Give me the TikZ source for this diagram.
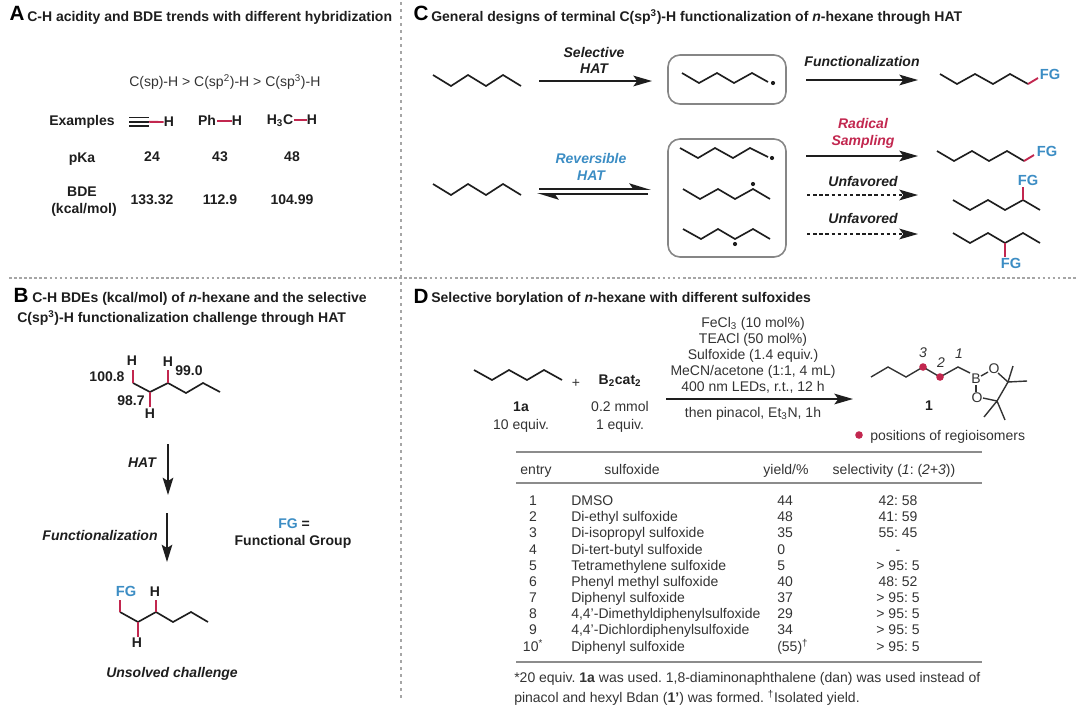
\documentclass[tikz,border=0pt]{standalone}
\usepackage{fontspec}
\setmainfont{Liberation Sans}
\usetikzlibrary{arrows.meta}
\frenchspacing
\definecolor{crim}{HTML}{C2274F}
\definecolor{azure}{HTML}{3C8DC4}
\definecolor{ink}{HTML}{1E1E1E}
\definecolor{txt}{HTML}{333333}
\definecolor{sep}{HTML}{A6A6A6}
\definecolor{boxc}{HTML}{868686}
\definecolor{rulec}{HTML}{8C8C8C}
\tikzset{
  x=0.75pt,y=-0.75pt,
  tb/.style={inner sep=0pt,text=ink,font=\fontsize{10.5}{12}\selectfont\bfseries,text height=9.8pt,text depth=2.8pt},
  tr/.style={inner sep=0pt,text=txt,font=\fontsize{10.5}{12}\selectfont,text height=9.8pt,text depth=2.8pt},
  ti/.style={inner sep=0pt,text=ink,font=\fontsize{10.5}{12}\selectfont\bfseries\itshape,text height=9.8pt,text depth=2.8pt},
  tfg/.style={tb,text=azure,font=\fontsize{11}{12}\selectfont\bfseries},
  title/.style={tb,anchor=west,font=\fontsize{10.5}{12}\selectfont\bfseries},
  letter/.style={inner sep=0pt,text=black,font=\fontsize{15.5}{16}\selectfont\bfseries,text height=11.5pt,text depth=0pt},
  bond/.style={draw=ink,line width=1.25pt,line join=miter},
  rbond/.style={draw=crim,line width=1.4pt},
  thin bond/.style={draw=txt,line width=1.05pt},
  sepv/.style={draw=sep,line width=1.6pt,dash pattern=on 2.4pt off 2.85pt},
  seph/.style={draw=sep,line width=1.2pt,dash pattern=on 2pt off 1.8pt},
  roundbox/.style={draw=boxc,line width=1.2pt,rounded corners=9pt},
  rulel/.style={draw=rulec,line width=1.5pt},
  fat/.style={draw=ink,line width=1.4pt,-{Stealth[length=14pt,width=8pt,inset=3pt]}},
  dashy/.style={fat,dash pattern=on 2.6pt off 2pt},
  harp/.style={draw=ink,line width=1.4pt,-{Stealth[harpoon,length=14pt,width=8.5pt,inset=3pt]}},
  down/.style={draw=ink,line width=1pt,-{Stealth[length=13pt,width=8pt,inset=2.5pt]}},
  rad/.style={fill=ink,draw=none},
  rdot/.style={fill=crim,draw=none},
}
\newcommand{\trow}[6]{%
  \node[tr] (e#1) at (533,#2) {#3};
  \node[tr,anchor=west] (s#1) at (571,#2) {#4};
  \node[tr,anchor=west] (y#1) at (777,#2) {#5};
  \node[tr] (v#1) at (898,#2) {#6};
}
\begin{document}
\begin{tikzpicture}
\useasboundingbox (0,0) rectangle (1080,715);
% separators
\coordinate (sv1) at (401,2);\coordinate (sv2) at (401,700);
\coordinate (sh1) at (9,278);\coordinate (sh4) at (1076,278);
\draw[sepv] (sv1) -- (sv2);
\draw[seph] (sh1) -- (sh4);
% ---------- Panel A
\node[letter] (la) at (17,13) {A};
\node[title] (ta) at (27,17) {C-H acidity and BDE trends with different hybridization};
\node[tr,anchor=west] (trend) at (129,82) {C(sp)-H > C(sp\textsuperscript{2})-H > C(sp\textsuperscript{3})-H};
\node[tb] (ex) at (82,121) {Examples};
\draw[bond] (129,117.5) -- (149,117.5) (129,121.8) -- (149,121.8) (129,126) -- (149,126);
\node[tb] (h1) at (169,122) {H};
\coordinate (t1) at (149,121.8);\draw[rbond] (t1) -- (h1.west);
\node[tb] (ph) at (207,121) {Ph};
\node[tb] (h2) at (237,121) {H};
\draw[rbond] (ph) ++(10,0) -- (h2.west);
\node[tb] (me) at (280,120) {H\textsubscript{3}C};
\node[tb] (h3) at (312,120) {H};
\draw[rbond] (me.east) ++(1,0) -- (h3.west);
\node[tb] (pk) at (82,158) {pKa};
\node[tb] (pk1) at (152,157) {24};
\node[tb] (pk2) at (220,157) {43};
\node[tb] (pk3) at (292,157) {48};
\node[tb] (bd) at (82,192) {BDE};
\node[tb] (bdu) at (84,209) {(kcal/mol)};
\node[tb] (bd1) at (152,200) {133.32};
\node[tb] (bd2) at (220,200) {112.9};
\node[tb] (bd3) at (292,200) {104.99};
% ---------- Panel C
\node[letter] (lc) at (421,13) {C};
\node[title] (tc) at (431,17) {General designs of terminal C(sp\textsuperscript{3})-H functionalization of \textit{n}-hexane through HAT};
\draw[bond] (433,75)--(451,86)--(468,75)--(486,86)--(503,75)--(521,86);
\node[ti] (sel) at (594,53) {Selective};
\node[ti] (selh) at (594,69) {HAT};
\coordinate (a1s) at (539,81);\coordinate (a1e) at (652,81);
\draw[fat] (a1s) -- (a1e);
\draw[roundbox] (668,55) rectangle (786,104);
\draw[bond] (682,73)--(699,83)--(717,73)--(734,83)--(752,73)--(768,82);
\fill[rad] (773,83) circle (2.1);
\node[ti] (fn) at (862,62) {Functionalization};
\coordinate (a2s) at (806,80);\coordinate (a2e) at (918,80);
\draw[fat] (a2s) -- (a2e);
\draw[bond] (940,74)--(957,84)--(975,74)--(993,84)--(1010,74)--(1028,84);
\node[tfg] (fg1) at (1050,75) {FG};
\coordinate (p1) at (1028,84);
\draw[rbond] (p1) -- (1038,78);
% row 2
\draw[bond] (433,184)--(451,195)--(468,184)--(486,195)--(503,184)--(521,195);
\node[ti,text=azure] (rev) at (591,159) {Reversible};
\node[ti,text=azure] (revh) at (591,176) {HAT};
\coordinate (e1s) at (539,189);\coordinate (e1e) at (651,189);
\coordinate (e2s) at (648,194);\coordinate (e2e) at (537,194);
\draw[harp] (e1s) -- (e1e);
\draw[harp] (e2s) -- (e2e);
\draw[roundbox] (668,139) rectangle (786,257);
\draw[bond] (680,148)--(698,158)--(715,148)--(733,158)--(750,148)--(768,157);
\fill[rad] (772,158) circle (2.1);
\draw[bond] (683,189)--(700,199)--(718,189)--(735,199)--(753,189)--(770,199);
\fill[rad] (753,184) circle (2.1);
\draw[bond] (683,229)--(701,239)--(718,229)--(735,239)--(753,229)--(770,239);
\fill[rad] (735,244) circle (2.1);
\node[ti,text=crim] (rs1) at (863,124) {Radical};
\node[ti,text=crim] (rs2) at (863,141) {Sampling};
\coordinate (a3s) at (806,156);\coordinate (a3e) at (918,156);
\draw[fat] (a3s) -- (a3e);
\node[ti] (u1) at (863,182) {Unfavored};
\coordinate (a4s) at (807,195);\coordinate (a4e) at (918,195);
\draw[dashy] (a4s) -- (a4e);
\node[ti] (u2) at (863,219) {Unfavored};
\coordinate (a5s) at (807,234);\coordinate (a5e) at (918,234);
\draw[dashy] (a5s) -- (a5e);
\draw[bond] (937,151)--(954,161)--(972,151)--(989,161)--(1007,151)--(1024,161);
\draw[rbond] (1024,161)--(1034,155);
\node[tfg] (fg2) at (1047,152) {FG};
\draw[bond] (953,200)--(970,210)--(988,200)--(1005,210)--(1023,200)--(1040,210);
\node[tfg] (fg3) at (1028,181) {FG};
\draw[rbond] (1023,200)--(1023,187);
\draw[bond] (953,233)--(970,243)--(988,233)--(1005,243)--(1023,233)--(1040,243);
\node[tfg] (fg4) at (1011,264) {FG};
\draw[rbond] (1005,243)--(1005,257);
% ---------- Panel B
\node[letter] (lb) at (21,295) {B};
\node[title] (tb1) at (32,298) {C-H BDEs (kcal/mol) of \textit{n}-hexane and the selective};
\node[title] (tb2) at (17,318) {C(sp\textsuperscript{3})-H functionalization challenge through HAT};
\draw[bond] (133,383)--(150,392)--(168,383)--(186,393)--(203,383)--(220,392);
\draw[rbond] (133,383)--(133,370);
\draw[rbond] (150,392)--(150,407);
\draw[rbond] (168,383)--(168,370);
\node[tb] (bh1) at (132,361) {H};
\node[tb] (bh2) at (150,414) {H};
\node[tb] (bh3) at (168,362) {H};
\node[tb] (bn1) at (107,377) {100.8};
\node[tb] (bn2) at (189,371) {99.0};
\node[tb] (bn3) at (131,401) {98.7};
\coordinate (d1s) at (168,444);\coordinate (d1e) at (168,495);
\draw[down] (d1s) -- (d1e);
\node[ti] (bhat) at (142,463) {HAT};
\coordinate (d2s) at (167,513);\coordinate (d2e) at (167,562);
\draw[down] (d2s) -- (d2e);
\node[ti] (bfn) at (100,536) {Functionalization};
\node[tb] (fgeq) at (294,524) {\textcolor{azure}{FG} =};
\node[tb] (fgn) at (293,541) {Functional Group};
\draw[bond] (120,612)--(138,622)--(156,612)--(173,622)--(191,612)--(208,622);
\draw[rbond] (120,612)--(120,600);
\draw[rbond] (156,612)--(156,600);
\draw[rbond] (138,622)--(138,637);
\node[tfg] (bfg) at (126,592) {FG};
\node[tb] (bh4) at (155,592) {H};
\node[tb] (bh5) at (137,643) {H};
\node[ti] (uc) at (172,673) {Unsolved challenge};
% ---------- Panel D
\node[letter] (ld) at (421,296) {D};
\node[title] (td) at (431,298) {Selective borylation of \textit{n}-hexane with different sulfoxides};
\draw[bond] (474,370)--(492,380)--(509,370)--(527,380)--(544,370)--(562,380);
\node[tr] (plus) at (576,383) {+};
\node[tb] (b2) at (620,380) {B\textsubscript{2}cat\textsubscript{2}};
\node[tb] (l1a) at (521,407) {1a};
\node[tr] (q1) at (521,425) {10 equiv.};
\node[tr] (q2) at (620,407) {0.2 mmol};
\node[tr] (q3) at (620,425) {1 equiv.};
\node[tr] (c1) at (753,323) {FeCl\textsubscript{3} (10 mol\%)};
\node[tr] (c2) at (753,339) {TEACl (50 mol\%)};
\node[tr] (c3) at (753,355) {Sulfoxide (1.4 equiv.)};
\node[tr] (c4) at (753,371) {MeCN/acetone (1:1, 4 mL)};
\node[tr] (c5) at (753,387) {400 nm LEDs, r.t., 12 h};
\coordinate (a6s) at (666,399);\coordinate (a6e) at (853,399);
\draw[fat] (a6s) -- (a6e);
\node[tr] (c6) at (753,413) {then pinacol, Et\textsubscript{3}N, 1h};
% product 1
\draw[thin bond] (871,377)--(888,367)--(906,377)--(923,367)--(940,377)--(958,367)--(970,373);
\node[tr] (bo) at (976,379) {B};
\node[tr] (o1) at (994,369) {O};
\node[tr] (o2) at (977,398) {O};
\draw[thin bond] (981,376)--(988,372);
\draw[thin bond] (976,385)--(976,392);
\draw[thin bond] (998,373)--(1008,382)--(997,401)--(983,398);
\draw[thin bond] (1008,382)--(1013,366) (1008,382)--(1027,381);
\draw[thin bond] (997,401)--(984,417) (997,401)--(1005,420);
\fill[rdot] (923,367) circle (3.8);
\fill[rdot] (940,377) circle (3.8);
\node[tr,font=\fontsize{10.5}{12}\selectfont\itshape] (n3) at (923,353) {3};
\node[tr,font=\fontsize{10.5}{12}\selectfont\itshape] (n2) at (941,363) {2};
\node[tr,font=\fontsize{10.5}{12}\selectfont\itshape] (n1) at (959,354) {1};
\node[tb] (l1) at (929,406) {1};
\fill[rdot] (859,435) circle (3.8);
\node[tr,anchor=west] (pos) at (870,436) {positions of regioisomers};
% table
\draw[rulel] (516,452) -- (982,452);
\draw[rulel] (516,483) -- (982,483);
\draw[rulel] (516,662) -- (982,662);
\node[tr] (he) at (536,470) {entry};
\node[tr] (hs) at (632,470) {sulfoxide};
\node[tr] (hy) at (786,470) {yield/\%};
\node[tr] (hv) at (894,470) {selectivity (\textit{1}: (\textit{2+3}))};
\trow{1}{501}{1}{DMSO}{44}{42: 58}
\trow{2}{517}{2}{Di-ethyl sulfoxide}{48}{41: 59}
\trow{3}{533}{3}{Di-isopropyl sulfoxide}{35}{55: 45}
\trow{4}{550}{4}{Di-tert-butyl sulfoxide}{0}{-}
\trow{5}{566}{5}{Tetramethylene sulfoxide}{5}{> 95: 5}
\trow{6}{582}{6}{Phenyl methyl sulfoxide}{40}{48: 52}
\trow{7}{598}{7}{Diphenyl sulfoxide}{37}{> 95: 5}
\trow{8}{614}{8}{4,4'-Dimethyldiphenylsulfoxide}{29}{> 95: 5}
\trow{9}{630}{9}{4,4'-Dichlordiphenylsulfoxide}{34}{> 95: 5}
\trow{10}{647}{10\textsuperscript{*}}{Diphenyl sulfoxide}{(55)\textsuperscript{†}}{> 95: 5}
\node[tr,anchor=west] (f1) at (514,678) {*20 equiv. \textbf{1a} was used. 1,8-diaminonaphthalene (dan) was used instead of};
\node[tr,anchor=west] (f2) at (514,698) {pinacol and hexyl Bdan (\textbf{1'}) was formed. \textsuperscript{†}Isolated yield.};
\end{tikzpicture}
\end{document}
